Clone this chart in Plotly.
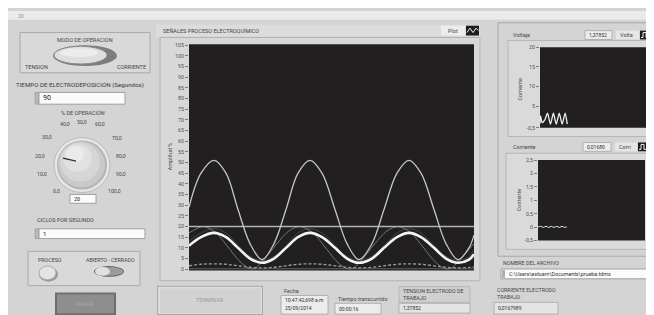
import plotly.graph_objects as go

W, H = 654, 315
FONT = "Roboto"

# ---------------- data ----------------
t_main = [0, 12, 25, 37, 49, 61, 73, 85, 97, 109, 121, 133, 146, 158, 170, 183, 195, 208, 220, 232, 245, 257, 269, 280, 285]
amp_big = [29, 45, 51, 45, 28, 12, 4.5, 12, 28, 45, 51, 45, 28, 12, 4.5, 12, 28, 45, 51, 45, 28, 12, 4.5, 10, 16]
amp_thick = [11, 15, 17, 15, 10, 5, 3, 5, 10, 15, 17, 15, 10, 5, 3, 5, 10, 15, 17, 15, 10, 5, 3, 4.5, 7]
amp_dim = [13, 17, 19, 17, 11, 6, 4, 6, 11, 17, 19, 17, 11, 6, 4, 6, 11, 17, 19, 17, 11, 6, 4, 6, 9]
amp_low = [1.6, 2.3, 2.5, 2.3, 1.6, 0.9, 0.6, 0.9, 1.6, 2.3, 2.5, 2.3, 1.6, 0.9, 0.6, 0.9, 1.6, 2.3, 2.5, 2.3, 1.6, 0.9, 0.6, 0.8, 1.0]
t_clip = [0, 14, 26, 38, 50, 60, 66, 76, 88, 100, 111, 123, 135, 147, 157, 164, 174, 186, 198, 209, 221, 233, 245, 255, 262, 272, 285]
amp_clip = [17, 20, 17.5, 11, 4, 0.4, 0.4, 5, 12, 18, 20, 17.5, 11, 4, 0.4, 0.4, 5, 12, 18, 20, 17.5, 11, 4, 0.4, 0.4, 5, 12]
t_ref = [0, 285]
amp_ref = [20, 20]
amp_base = [0.2, 0.2]

v_t = [0, 0.5, 2, 4.5, 7, 9.8, 12.5, 15.2, 18, 20.7, 23.5, 25.5]
v_val = [0.5, 2.5, 0.8, 1.5, 3.2, 0.4, 3.2, 0.4, 3.2, 0.4, 3.2, 0.4]

i_t = [0, 2.5, 5, 7.5, 10, 12.5, 15, 17.5, 20, 22.5, 25, 27]
i_val = [0.01, 0.03, -0.01, 0.03, -0.01, 0.03, -0.01, 0.03, -0.01, 0.03, -0.01, 0.01]

main_ticks = [0, 5, 10, 15, 20, 25, 30, 35, 40, 45, 50, 55, 60, 65, 70, 75, 80, 85, 90, 95, 100, 105]
volt_ticks = [-0.5, 5, 10, 15, 20]
volt_labels = ["-0,5", "5", "10", "15", "20"]
corr_ticks = [-0.5, 0, 0.5, 1, 1.5, 2, 2.5]
corr_labels = ["-0,5", "0", "0,5", "1", "1,5", "2", "2,5"]
knob_labels = ["0,0", "10,0", "20,0", "30,0", "40,0", "50,0", "60,0", "70,0", "80,0", "90,0", "100,0"]


def X(px):
    return px / W


def Y(py):
    return 1 - py / H


shapes = []
annots = []


def rect(x0, y0, x1, y1, fill, line=None, lw=1, layer="below"):
    shapes.append(dict(type="rect", xref="paper", yref="paper",
                       x0=X(x0), x1=X(x1), y0=Y(y1), y1=Y(y0),
                       fillcolor=fill, layer=layer,
                       line=dict(color=line if line else fill, width=lw if line else 0)))


def oval(x0, y0, x1, y1, fill, line=None, lw=1, layer="below"):
    shapes.append(dict(type="circle", xref="paper", yref="paper",
                       x0=X(x0), x1=X(x1), y0=Y(y1), y1=Y(y0),
                       fillcolor=fill, layer=layer,
                       line=dict(color=line if line else fill, width=lw if line else 0)))


def seg(x0, y0, x1, y1, color, w=1, layer="below"):
    shapes.append(dict(type="line", xref="paper", yref="paper",
                       x0=X(x0), x1=X(x1), y0=Y(y0), y1=Y(y1), layer=layer,
                       line=dict(color=color, width=w)))


def path(pts, color, w=1, layer="above"):
    d = "M " + " L ".join(f"{X(a):.5f},{Y(b):.5f}" for a, b in pts)
    shapes.append(dict(type="path", xref="paper", yref="paper", path=d, layer=layer,
                       line=dict(color=color, width=w)))


def txt(x, y, s, size=6, color="#454545", anchor="left", angle=0):
    annots.append(dict(x=X(x), y=Y(y), xref="paper", yref="paper", text=s, showarrow=False,
                       xanchor=anchor, yanchor="middle", textangle=angle,
                       font=dict(size=size, color=color, family=FONT)))


# ---------------- background panels ----------------
rect(0, 0, 654, 9, "#ebebeb")
txt(8, 5, "20", 5, "#8a8a8a")

# left: modo de operacion
rect(12, 22, 142, 63, "#d9d9d9", "#a9a9a9", 1)
txt(77, 30, "MODO DE OPERACION", 5.5, "#454545", "center")
oval(45, 35, 109, 56, "#7d7d7d")
oval(46, 36, 99, 54, "#dedede", "#8a8a8a", 1)
oval(52, 38, 90, 47, "#ececec")
txt(28, 57, "TENSION", 5.5, "#454545", "center")
txt(123, 57, "CORRIENTE", 5.5, "#454545", "center")

txt(72, 75, "TIEMPO DE ELECTRODEPOSICIÓN (Segundos)", 6.2, "#3a3a3a", "center")
rect(27, 83, 31, 95, "#b8b8b8", "#8f8f8f", 0.5)
rect(31, 83, 117, 95, "#fbfbfb", "#9f9f9f", 1)
txt(33, 89, "90", 7, "#202020")

txt(75, 104, "% DE OPERACIÓN", 5.5, "#454545", "center")
# knob
oval(46, 129, 102, 185, "#e6e6e6", "#b9b9b9", 1)
oval(49, 132, 99, 182, "#b4b4b4")
oval(50, 133, 97, 180, "#c9c9c9")
oval(52, 134, 92, 174, "#d6d6d6")
oval(55, 136, 84, 164, "#e1e1e1")
oval(58, 138, 76, 154, "#ebebeb")
seg(55, 150, 68, 153, "#2e2e2e", 1.3)
knob_pos = [(48, 184), (34, 166), (32, 148), (39, 128), (57, 115), (74, 113),
            (92, 115), (109, 129), (113, 148), (113, 166), (106, 184)]
for (kx, ky), lab in zip(knob_pos, knob_labels):
    txt(kx, ky, lab, 5.2, "#454545", "center")
rect(62, 187, 88, 196, "#fbfbfb", "#9f9f9f", 1)
txt(64, 191.5, "20", 5.5, "#202020")

txt(27, 213, "CICLOS POR SEGUNDO", 5.5, "#454545")
rect(27, 222, 31, 232, "#b8b8b8", "#8f8f8f", 0.5)
rect(31, 222, 137, 232, "#fbfbfb", "#9f9f9f", 1)
txt(33, 227, "1", 6, "#202020")

rect(20, 245, 132, 280, "#d9d9d9", "#a9a9a9", 1)
txt(42, 254, "PROCESO", 5.3, "#454545", "center")
txt(102, 254, "ABIERTO - CERRADO", 5.3, "#454545", "center")
oval(31, 261, 50, 276, "#9a9a9a")
oval(31, 260, 48, 274, "#e4e4e4", "#a0a0a0", 0.8)
oval(86, 260, 116, 271, "#5f5f5f")
oval(87, 261, 115, 270, "#9c9c9c")
oval(87, 261, 102, 270, "#e0e0e0")

rect(47, 287, 108, 310, "#6e6e6e")
rect(49, 289, 106, 308, "#8e8e8e")
txt(77, 298.5, "PARAR", 5.5, "#a8a8a8", "center")

# main chart frame
rect(148, 14, 472, 26, "#dcdcdc")
txt(153, 20, "SEÑALES PROCESO ELECTROQUÍMICO", 5.5, "#454545")
rect(433, 15, 457, 25, "#ececec")
txt(445, 20, "Plot", 5.5, "#454545", "center")
rect(458, 15, 471, 25, "#1f1c1d")
path([(459, 22), (462, 17.5), (465, 22), (468, 17.5), (470.5, 20)], "#f0f0f0", 1)
rect(152, 27, 472, 275, "#d8d8d8", "#b3b3b3", 1)
rect(181, 34, 466, 264.5, "#221f20")
txt(162, 148, "Amplitud %", 5.5, "#4a4a4a", "center", -90)

# right panel
rect(490, 12, 652, 250, "#d4d4d4", "#a8a8a8", 1)
txt(503, 24.5, "Voltaje", 5.5, "#454545")
rect(577, 20, 604, 29, "#ececec", "#a5a5a5", 0.8)
txt(579, 24.5, "1,37852", 5, "#303030")
rect(608, 20, 631, 29, "#e6e6e6")
txt(618, 24.5, "Volta", 5.5, "#454545", "center")
rect(632, 20, 645, 29, "#1f1c1d", layer="above")
path([(633, 27), (635, 27), (635, 22), (638, 22), (638, 27), (641, 27), (641, 22), (644, 22)], "#f0f0f0", 1)
rect(500, 30, 647, 128, "#dadada", "#b5b5b5", 1)
rect(532, 37, 639, 119, "#221f20")
txt(512, 80, "Corriente", 5.5, "#4a4a4a", "center", -90)

txt(503, 139, "Corriente", 5.5, "#454545")
rect(575, 134, 603, 143, "#ececec", "#a5a5a5", 0.8)
txt(577, 138.5, "0,01680", 5, "#303030")
rect(607, 134, 629, 143, "#e6e6e6")
txt(617, 138.5, "Corri", 5.5, "#454545", "center")
rect(630, 134, 644, 143, "#1f1c1d", layer="above")
path([(631, 141), (633, 141), (633, 136), (636, 136), (636, 141), (639, 141), (639, 136), (643, 136)], "#f0f0f0", 1)
rect(498, 145, 647, 243, "#dadada", "#b5b5b5", 1)
rect(530, 152, 637, 234, "#221f20")
txt(511, 193, "Corriente", 5.5, "#4a4a4a", "center", -90)

# file name
txt(493, 257, "NOMBRE DEL ARCHIVO", 5.3, "#454545")
rect(493, 263, 643, 273, "#fbfbfb", "#9f9f9f", 1)
rect(494, 264, 497, 272, "#b0b0b0")
txt(499, 268, "C:\\Users\\estuarn\\Documents\\prueba.tdms", 5.3, "#303030")
rect(647, 263, 653, 269, "#9a9a9a")

# bottom row
rect(149, 280, 255, 310, "#a9a9a9")
rect(150, 281, 254, 309, "#dcdcdc")
rect(152, 283, 253, 308, "#d2d2d2")
txt(202, 295, "TERMINAR", 5.5, "#9c9c9c", "center")

txt(274, 285, "Fecha", 5.5, "#454545")
rect(273, 290, 320, 309, "#ececec", "#a5a5a5", 0.8)
txt(275, 295, "10:47:42,698 a.m", 5, "#303030")
txt(275, 303, "25/09/2014", 5, "#303030")

txt(328, 293.5, "Tiempo transcurrido", 5.5, "#454545")
rect(327, 298, 373, 309, "#ececec", "#a5a5a5", 0.8)
txt(329, 303.5, "00:00:16", 5, "#303030")

rect(391, 281, 462, 297, "#d0d0d0", "#b0b0b0", 0.8)
txt(393, 285, "TENSION ELECTRODO DE", 5.3, "#454545")
txt(393, 293, "TRABAJO", 5.3, "#454545")
rect(391, 298, 462, 308, "#e4e4e4", "#a5a5a5", 0.8)
txt(393, 303, "1,37852", 5, "#303030")

txt(487, 284, "CORRIENTE ELECTRODO", 5.3, "#454545")
txt(487, 292, "TRABAJO", 5.3, "#454545")
rect(486, 297, 550, 309, "#e4e4e4", "#a5a5a5", 0.8)
txt(488, 303, "0,0167989", 5, "#303030")

# ---------------- traces ----------------
fig = go.Figure()
spl = dict(shape="spline", smoothing=1.0)
fig.add_trace(go.Scatter(x=t_ref, y=amp_base, mode="lines", line=dict(color="#5e5e5e", width=1.2), xaxis="x", yaxis="y"))
fig.add_trace(go.Scatter(x=t_main, y=amp_dim, mode="lines", line=dict(color="#4a4a4a", width=0.9, **spl), xaxis="x", yaxis="y"))
fig.add_trace(go.Scatter(x=t_clip, y=amp_clip, mode="lines", line=dict(color="#808080", width=0.9, shape="spline", smoothing=0.8), xaxis="x", yaxis="y"))
fig.add_trace(go.Scatter(x=t_main, y=amp_low, mode="lines", line=dict(color="#9c9c9c", width=1.3, dash="3px,2px", **spl), xaxis="x", yaxis="y"))
fig.add_trace(go.Scatter(x=t_ref, y=amp_ref, mode="lines", line=dict(color="#b4b4b4", width=1.3), xaxis="x", yaxis="y"))
fig.add_trace(go.Scatter(x=t_main, y=amp_big, mode="lines", line=dict(color="#c6c6c6", width=1.3, **spl), xaxis="x", yaxis="y"))
fig.add_trace(go.Scatter(x=t_main, y=amp_thick, mode="lines", line=dict(color="#f4f4f4", width=2.6, **spl), xaxis="x", yaxis="y"))

fig.add_trace(go.Scatter(x=v_t, y=v_val, mode="lines", line=dict(color="#f0f0f0", width=1.3, shape="spline", smoothing=0.6), xaxis="x2", yaxis="y2"))
fig.add_trace(go.Scatter(x=i_t, y=i_val, mode="lines", line=dict(color="#e8e8e8", width=1.0, shape="spline"), xaxis="x3", yaxis="y3"))

tickfont = dict(size=5.3, color="#505050", family=FONT)
common_y = dict(showgrid=False, zeroline=False, showline=False, ticks="outside", ticklen=3,
                tickwidth=1, tickcolor="#7a7a7a", tickfont=tickfont, fixedrange=True)
common_x = dict(visible=False, showgrid=False, zeroline=False, fixedrange=True)

fig.update_layout(
    width=W, height=H, margin=dict(l=0, r=0, t=0, b=0),
    paper_bgcolor="#d4d4d4", plot_bgcolor="#221f20",
    showlegend=False,
    xaxis=dict(domain=[X(181), X(466)], range=[0, 285], anchor="y", **common_x),
    yaxis=dict(domain=[Y(264.5), Y(34)], range=[-0.6, 105.4], anchor="x",
               tickvals=main_ticks, **common_y),
    xaxis2=dict(domain=[X(532), X(639)], range=[0, 100], anchor="y2", **common_x),
    yaxis2=dict(domain=[Y(119), Y(37)], range=[-0.5, 20], anchor="x2",
                tickvals=volt_ticks, ticktext=volt_labels, **common_y),
    xaxis3=dict(domain=[X(530), X(637)], range=[0, 100], anchor="y3", **common_x),
    yaxis3=dict(domain=[Y(234), Y(152)], range=[-0.5, 2.5], anchor="x3",
                tickvals=corr_ticks, ticktext=corr_labels, **common_y),
    shapes=shapes, annotations=annots,
)

fig.write_html("out.html")
